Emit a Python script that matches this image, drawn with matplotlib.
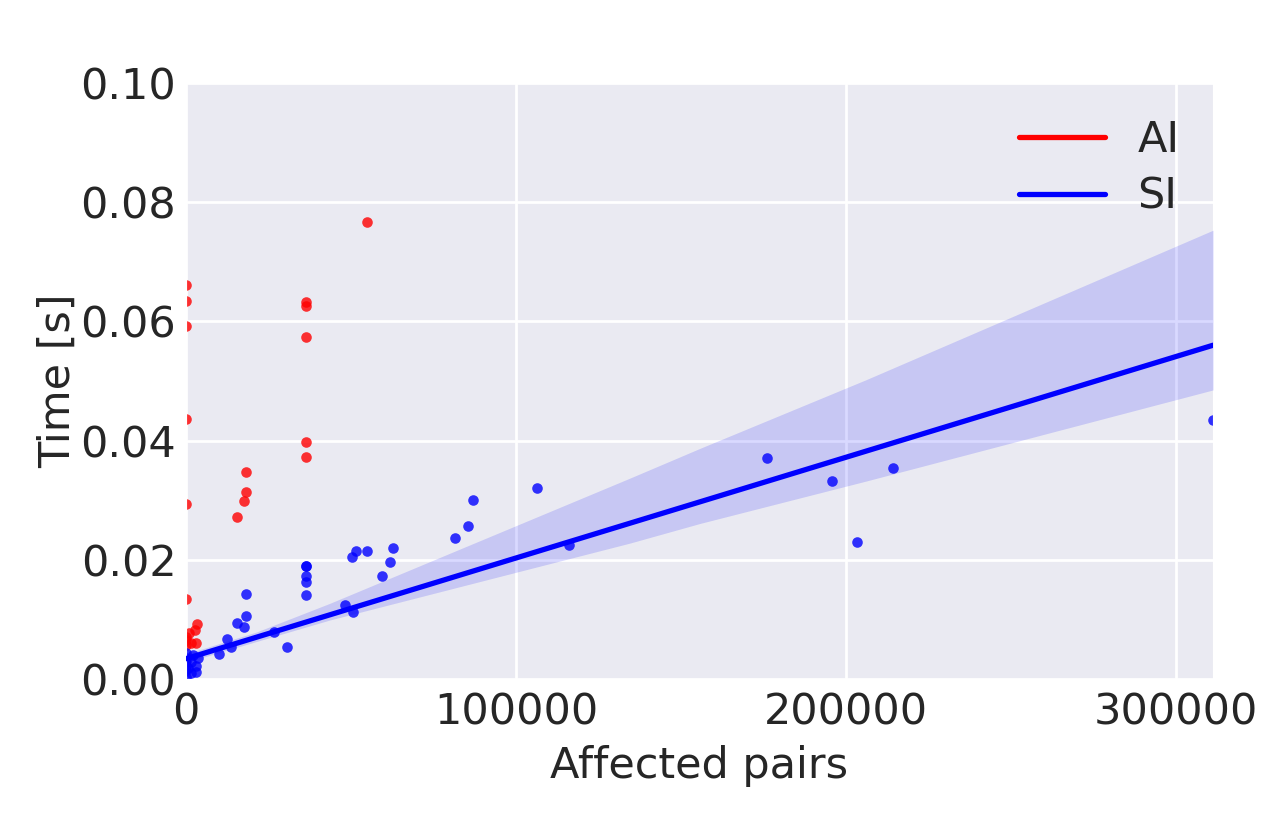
import numpy as np
import matplotlib
matplotlib.use("Agg")
import matplotlib.pyplot as plt
import seaborn as sns
from matplotlib.lines import Line2D

sns.set_style("darkgrid")
plt.rcParams['font.family'] = ['DejaVu Sans']

# AI measurements (affected pairs, time in seconds)
ai_x = [0, 0, 0, 0, 0, 0, 1000, 0, 1500, 0, 0,
        3240, 2830, 3030,
        18180, 18180, 17580, 15560,
        36400, 36400, 36400, 36400, 36400,
        54850]
ai_y = [0.0661, 0.0635, 0.0593, 0.0436, 0.0293, 0.0134, 0.0077, 0.0071, 0.0060, 0.0057, 0.0065,
        0.0093, 0.0082, 0.0061,
        0.0348, 0.0313, 0.0299, 0.0272,
        0.0633, 0.0626, 0.0573, 0.0397, 0.0373,
        0.0767]

# SI measurements
si_x = [0, 2030, 0, 3540, 3030, 1500, 0, 0, 0, 1500, 3000, 0, 500,
        10100, 12530, 13540,
        15560, 17580, 18180, 18180,
        26770, 30500,
        36400, 36400, 36400, 36400, 36400,
        48300, 50600,
        50200, 51500, 54900,
        59290, 61800, 62700,
        81520, 85350, 87070,
        106270, 116060,
        176130, 195600, 203270, 214090, 311200]
si_y = [0.0044, 0.0040, 0.0035, 0.0035, 0.0021, 0.0010, 0.0015, 0.0004, 0.0023, 0.0029, 0.0011, 0.0030, 0.0018,
        0.0042, 0.0067, 0.0053,
        0.0094, 0.0087, 0.0105, 0.0142,
        0.0078, 0.0054,
        0.0190, 0.0189, 0.0172, 0.0162, 0.0141,
        0.0124, 0.0112,
        0.0204, 0.0215, 0.0215,
        0.0173, 0.0197, 0.0220,
        0.0237, 0.0257, 0.0300,
        0.0321, 0.0225,
        0.0370, 0.0333, 0.0229, 0.0354, 0.0435]

# SI regression line and its confidence band
fit_x = [0, 311200]
fit_y = [0.0034, 0.0560]
ci_x = [0, 21400, 43600, 134500, 155760, 206000, 311200]
ci_lo = [0.0028, 0.0063, 0.0099, 0.0228, 0.0261, 0.0332, 0.0485]
ci_hi = [0.0042, 0.0079, 0.0127, 0.0337, 0.0387, 0.0502, 0.0753]

txt = '#262626'
fs = 31
fig = plt.figure(figsize=(12.77, 8.25), dpi=100)
ax = fig.add_axes([0.1457, 0.177, 0.8042, 0.7224])

ax.scatter(ai_x, ai_y, s=58, color='red', alpha=0.8, linewidths=0, zorder=2)
ax.scatter(si_x, si_y, s=58, color='blue', alpha=0.8, linewidths=0, zorder=2)
ax.fill_between(ci_x, ci_lo, ci_hi, color='blue', alpha=0.15, linewidth=0, zorder=3)
ax.plot(fit_x, fit_y, color='blue', lw=3.8, zorder=4)

ax.set_xlim(0, max(si_x))
ax.set_ylim(0, 0.10)
ax.set_xticks([0, 100000, 200000, 300000])
ax.set_yticks(np.arange(0, 0.101, 0.02))
ax.yaxis.set_major_formatter(matplotlib.ticker.FormatStrFormatter('%.2f'))
ax.xaxis.set_major_formatter(matplotlib.ticker.FormatStrFormatter('%d'))
ax.grid(True, color='white', lw=2)
ax.tick_params(axis='x', labelsize=fs, colors=txt, pad=9, length=0)
ax.tick_params(axis='y', labelsize=fs, colors=txt, pad=7, length=0)
ax.set_xlabel('Affected pairs', fontsize=fs, color=txt, labelpad=8)
ax.set_ylabel('Time [s]', fontsize=fs, color=txt, labelpad=1)

handles = [Line2D([], [], color='red', lw=3.8, solid_capstyle='round'),
           Line2D([], [], color='blue', lw=3.8, solid_capstyle='round')]
leg = ax.legend(handles, ['AI', 'SI'], loc='upper right', fontsize=fs, frameon=False,
                handlelength=2.0, handletextpad=0.75, labelspacing=0.35,
                bbox_to_anchor=(1.005, 1.005))
for t in leg.get_texts():
    t.set_color(txt)

fig.savefig('out.png', dpi=100)
